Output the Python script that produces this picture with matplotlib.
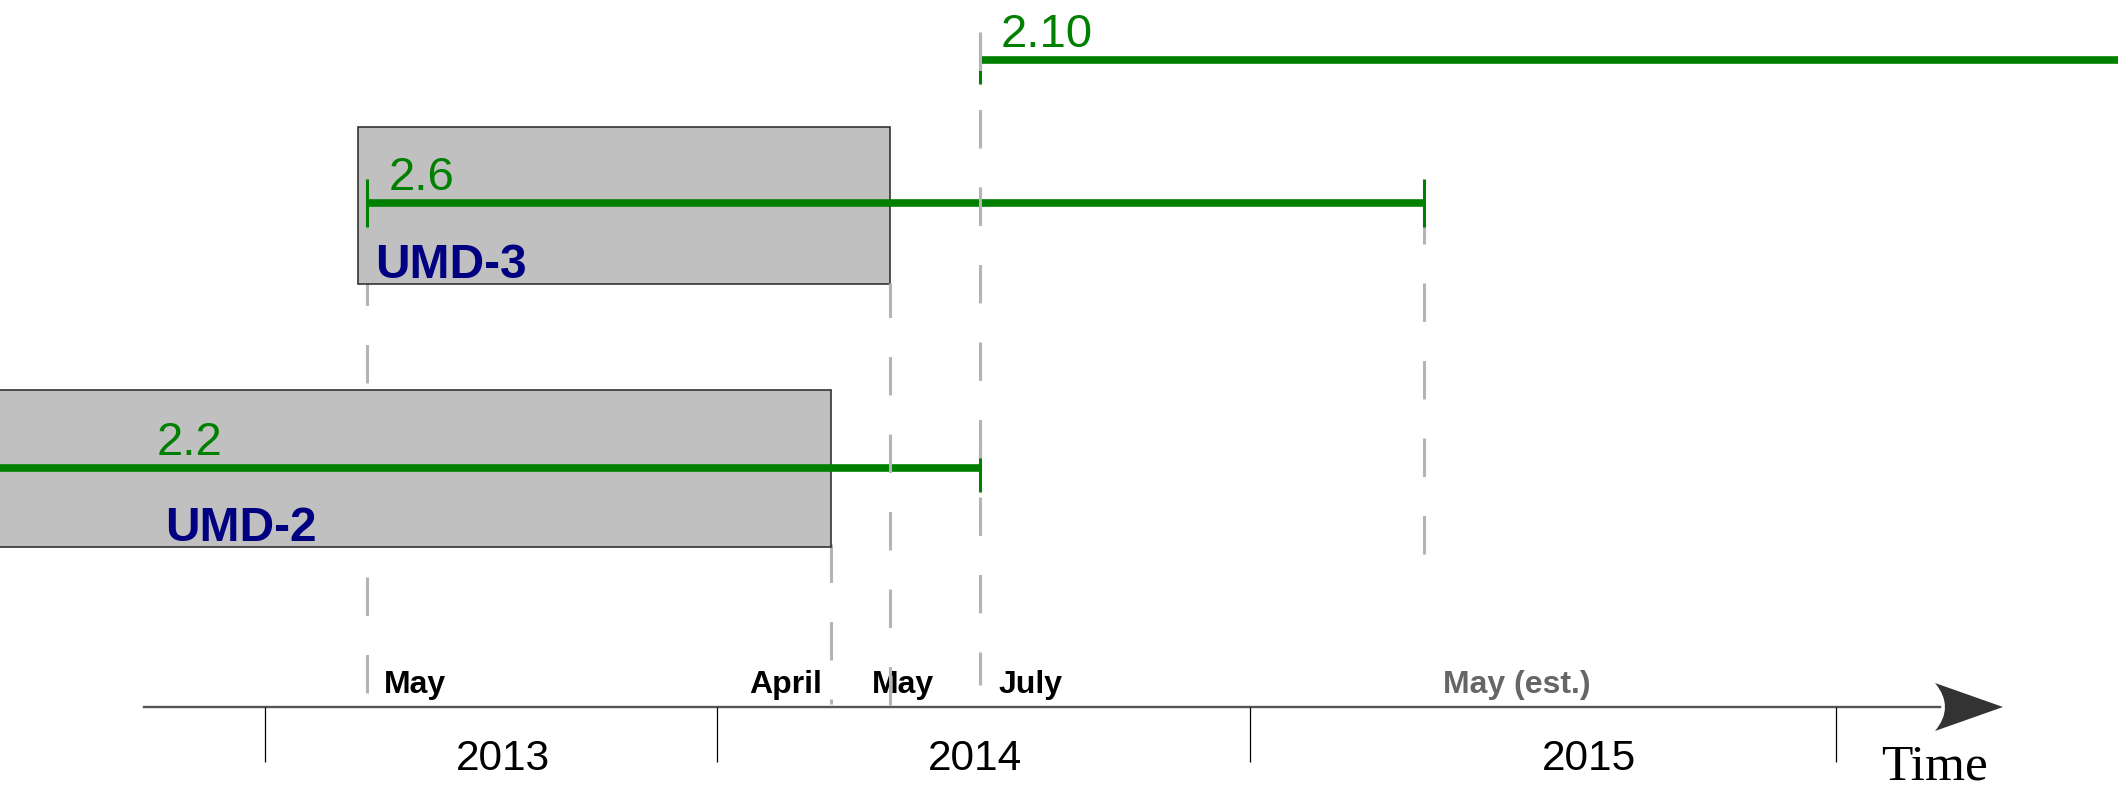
import numpy as np
import matplotlib
matplotlib.use("Agg")
import matplotlib.pyplot as plt
import matplotlib.transforms as mtransforms
from matplotlib.path import Path
from matplotlib.patches import PathPatch

# ---------------- data (time in months since Jan 2013) ----------------
years = ["2013", "2014", "2015"]
year_bounds = [0, 12, 24, 36]
year_label_at = [7.1, 17.9, 31.2]

milestone_labels = ["May", "April", "May", "July", "May (est.)"]
milestone_months = [4, 15, 16, 18, 28]
milestone_estimated = [False, False, False, False, True]

releases = ["2.2", "2.6", "2.10"]
release_start = [None, 4, 18]      # None: began before the chart
release_end = [18, 28, None]       # None: still ongoing
release_label_at = [-4.1, 4, 18]

umds = ["UMD-2", "UMD-3"]
umd_start = [None, 3.65]
umd_end = [15, 16]
umd_label_at = [-3.75, 3.65]

# ---------------- layout / style ----------------
W, H = 2118, 788
# schematic (not-to-scale) time axis: knots month -> pixel
KM = np.array([-10, 0, 4, 12, 15, 16, 18, 24, 28, 36, 42], float)
KP = np.array([0, 265, 367, 717, 831, 890, 980, 1250, 1424, 1836, 2118], float)
S0 = (KP[1] - KP[0]) / (KM[1] - KM[0])
S1 = (KP[-1] - KP[-2]) / (KM[-1] - KM[-2])


def fwd(m):
    m = np.asarray(m, float)
    y = np.interp(m, KM, KP)
    y = np.where(m < KM[0], KP[0] + (m - KM[0]) * S0, y)
    y = np.where(m > KM[-1], KP[-1] + (m - KM[-1]) * S1, y)
    return y


def inv(p):
    p = np.asarray(p, float)
    y = np.interp(p, KP, KM)
    y = np.where(p < KP[0], KM[0] + (p - KP[0]) / S0, y)
    y = np.where(p > KP[-1], KM[-1] + (p - KP[-1]) / S1, y)
    return y


GREEN = "#008000"
NAVY = "#000080"
DASH_GRAY = "#b4b4b4"

release_y = [468, 203, 60]
release_label_dx = [0, 22, 21]
umd_box = [(390, 547), (127, 284)]
umd_label_dx = [0, 17]
milestone_span = [(693, 180), (544, 704), (705, 283), (32, 685), (554, 180)]
milestone_z = [1, 1, 4, 4, 1]
milestone_dx = [17, -9, -18, 19, 19]
milestone_ha = ["left", "right", "left", "left", "left"]
AXIS_Y = 707

plt.rcParams["font.family"] = ["Liberation Sans", "DejaVu Sans"]
plt.rcParams["lines.scale_dashes"] = False

fig = plt.figure(figsize=(W / 100, H / 100), dpi=100)
ax = fig.add_axes([0, 0, 1, 1])
ax.set_xscale("function", functions=(fwd, inv))
ax.set_xlim(KM[0], KM[-1])
ax.set_ylim(H, 0)
ax.set_axis_off()

xmin, xmax = KM[0], KM[-1]

# pixel transform for decorations (origin top-left)
px = mtransforms.Affine2D().scale(1 / W, -1 / H).translate(0, 1) + fig.transFigure


def off(dx):
    return mtransforms.offset_copy(ax.transData, fig=fig, x=dx, y=0, units="dots")


# hardware boxes
for name, s, e, (top, bot), lab_at, ldx in zip(umds, umd_start, umd_end, umd_box,
                                               umd_label_at, umd_label_dx):
    s0 = xmin - 1 if s is None else s
    ax.barh((top + bot) / 2, e - s0, left=s0, height=bot - top,
            color="#c0c0c0", edgecolor="#333333", linewidth=1.2, zorder=2)
    ax.text(lab_at, bot - 6, name, transform=off(ldx), ha="left", va="baseline",
            color=NAVY, fontsize=34.5, fontweight="bold", zorder=3)

# milestone dashed lines and labels
for lab, m, est, (y0, y1), z, dx, ha in zip(milestone_labels, milestone_months,
                                            milestone_estimated, milestone_span,
                                            milestone_z, milestone_dx, milestone_ha):
    ax.plot([m, m], [y0, y1], color=DASH_GRAY, linewidth=2.2,
            linestyle=(0, (27.7, 28.1)), solid_capstyle="butt",
            dash_capstyle="butt", zorder=z)
    ax.text(m, 693, lab, transform=off(dx), ha=ha, va="baseline",
            fontsize=23, fontweight="bold",
            color="#666666" if est else "black", zorder=3)

# release lines
for name, s, e, y, lab_at, ldx in zip(releases, release_start, release_end,
                                      release_y, release_label_at, release_label_dx):
    s0 = xmin - 1 if s is None else s
    e0 = xmax + 1 if e is None else e
    ax.hlines(y, s0, e0, color=GREEN, linewidth=5.5, zorder=3)
    if s is not None:
        ax.vlines(s, y - 24, y + 24, color=GREEN, linewidth=2.2, zorder=3)
    if e is not None:
        ax.vlines(e, y - 24, y + 24, color=GREEN, linewidth=2.2, zorder=3)
    ax.text(lab_at, y - 13, name, transform=off(ldx), ha="left", va="baseline",
            color=GREEN, fontsize=34, zorder=3)

# time axis
ax.plot([144, 1940], [AXIS_Y, AXIS_Y], color="#555555", linewidth=1.7,
        transform=px, zorder=2)
verts = [(2003, AXIS_Y), (1935, AXIS_Y - 24), (1955, AXIS_Y), (1935, AXIS_Y + 24),
         (2003, AXIS_Y), (2003, AXIS_Y)]
codes = [Path.MOVETO, Path.LINETO, Path.CURVE3, Path.CURVE3, Path.LINETO,
         Path.CLOSEPOLY]
ax.add_patch(PathPatch(Path(verts, codes), facecolor="#333333",
                       edgecolor="none", transform=px, zorder=3))
ax.vlines(year_bounds, AXIS_Y, AXIS_Y + 55, color="black", linewidth=0.9, zorder=2)
for yr, at in zip(years, year_label_at):
    ax.text(at, 770, yr, ha="center", va="baseline", fontsize=30.5,
            color="black")
ax.text(1881, 780, "Time", transform=px, ha="left", va="baseline",
        fontsize=37, family=["Liberation Serif", "DejaVu Serif"], color="black")

fig.savefig("out.png", dpi=100)
